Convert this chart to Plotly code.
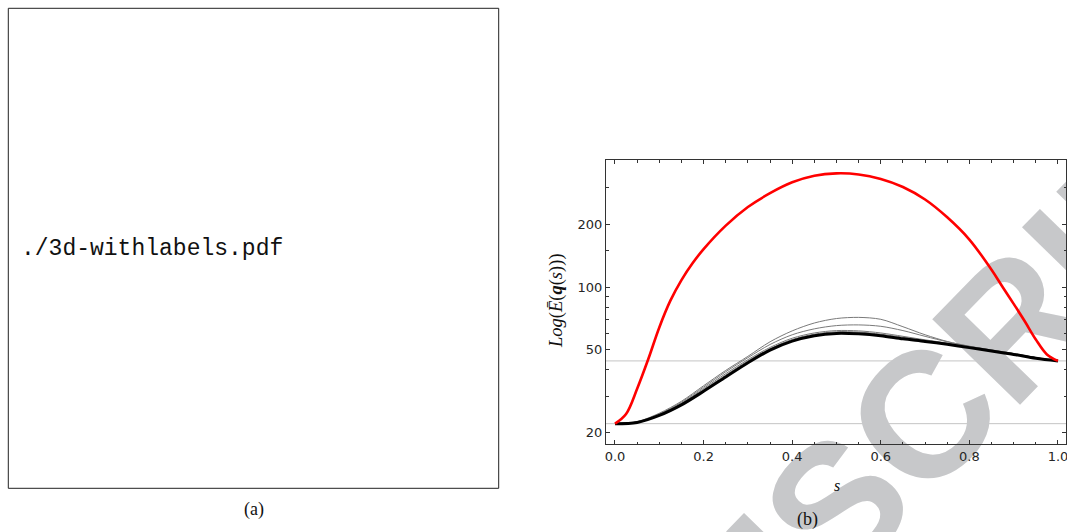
import math
import plotly.graph_objects as go

W, H = 1067, 532

# ---------------- data ----------------
s_red = [0, 0.025, 0.05, 0.075, 0.1, 0.125, 0.15, 0.175, 0.2, 0.25, 0.3, 0.35, 0.4, 0.45,
         0.5, 0.55, 0.6, 0.65, 0.7, 0.75, 0.8, 0.85, 0.875, 0.9, 0.925, 0.95, 0.975, 1.0]
e_red = [22.1, 24.6, 32.5, 45, 64, 86, 108, 130, 152, 197, 242, 282, 318, 342,
         351, 347, 330, 302, 263, 216, 169, 121, 100, 83, 68.5, 56, 47.5, 44.2]

s_path = [0, 0.05, 0.1, 0.15, 0.2, 0.25, 0.3, 0.35, 0.4, 0.45, 0.5,
          0.55, 0.6, 0.65, 0.7, 0.75, 0.8, 0.85, 0.9, 0.95, 1.0]
e_black = [22.1, 22.4, 24.2, 27.2, 31.6, 37.0, 43.3, 49.8, 55.0, 58.4, 59.9,
           59.6, 58.4, 56.4, 54.8, 53.1, 51.2, 49.3, 47.5, 45.5, 44.2]
e_grey1 = [22.1, 22.6, 24.8, 28.3, 33.6, 39.8, 46.5, 54.6, 61.6, 67.2, 70.6,
           71.5, 70.0, 64.5, 59.0, 54.8, 52.0, 49.9, 48.0, 45.9, 44.2]
e_grey2 = [22.1, 22.55, 24.6, 28.0, 33.1, 39.2, 45.8, 53.0, 59.0, 63.0, 65.3,
           65.8, 64.8, 61.8, 58.0, 54.6, 51.9, 49.8, 47.9, 45.8, 44.2]
e_grey3 = [22.1, 22.5, 24.5, 27.7, 32.6, 38.4, 44.8, 51.3, 56.8, 60.2, 61.8,
           61.6, 60.2, 58.0, 55.8, 53.8, 51.8, 49.8, 47.9, 45.8, 44.2]
e_grey4 = [22.1, 22.45, 24.4, 27.5, 32.2, 37.8, 44.2, 50.6, 56.0, 59.4, 61.0,
           60.8, 59.4, 57.4, 55.5, 53.6, 51.6, 49.7, 47.8, 45.7, 44.2]

ref_levels = [22.1, 44.2]

x_tickvals = [0, 0.2, 0.4, 0.6, 0.8, 1.0]
x_ticktext = ["0.0", "0.2", "0.4", "0.6", "0.8", "1.0"]
y_tickvals = [20, 50, 100, 200]
y_ticktext = ["20", "50", "100", "200"]
y_minorvals = [30, 40, 60, 70, 80, 90, 150, 300]

# ---------------- figure ----------------
fig = go.Figure()

for e in [e_grey1, e_grey2, e_grey3, e_grey4]:
    fig.add_trace(go.Scatter(x=s_path, y=e, mode="lines",
                             line=dict(color="#7a7a7a", width=1, shape="spline", smoothing=0.9),
                             showlegend=False, hoverinfo="skip"))
fig.add_trace(go.Scatter(x=s_path, y=e_black, mode="lines",
                         line=dict(color="#000000", width=3, shape="spline", smoothing=0.9),
                         showlegend=False))
fig.add_trace(go.Scatter(x=s_red, y=e_red, mode="lines",
                         line=dict(color="#ff0000", width=2.6, shape="spline", smoothing=1.0),
                         showlegend=False))

for lv in ref_levels:
    fig.add_hline(y=lv, line=dict(color="#c4c4c4", width=1), layer="below")

def px_x(p):
    return p / W

def px_y(p):
    return 1 - p / H

tickfont = dict(family="DejaVu Sans", size=13, color="#262626")

fig.update_layout(
    width=W, height=H,
    template="none",
    margin=dict(l=0, r=0, t=0, b=0),
    paper_bgcolor="white",
    plot_bgcolor="rgba(0,0,0,0)",
    showlegend=False,
    xaxis=dict(
        domain=[px_x(606), px_x(1066)],
        range=[-0.0203, 1.0181],
        tickmode="array", tickvals=x_tickvals, ticktext=x_ticktext,
        ticks="inside", ticklen=4, tickwidth=1, tickcolor="#333",
        minor=dict(dtick=0.05, tick0=0, ticks="inside", ticklen=2.5, tickwidth=1, tickcolor="#333", showgrid=False),
        showline=True, linecolor="#333", linewidth=1, mirror="allticks",
        showgrid=False, zeroline=False, automargin=False,
        ticklabeloverflow="allow",
        tickfont=tickfont,
    ),
    yaxis=dict(
        domain=[px_y(444), px_y(160)],
        type="log",
        range=[1.2468, 2.6095],
        tickmode="array", tickvals=y_tickvals, ticktext=y_ticktext,
        ticks="inside", ticklen=4, tickwidth=1, tickcolor="#333",
        minor=dict(tickmode="array", tickvals=y_minorvals, ticks="inside", ticklen=2.5, tickwidth=1, tickcolor="#333", showgrid=False),
        showline=True, linecolor="#333", linewidth=1, mirror="allticks",
        showgrid=False, zeroline=False, automargin=False,
        ticklabeloverflow="allow",
        tickfont=tickfont,
    ),
)

# left panel frame (missing-figure placeholder)
fig.add_shape(type="rect", xref="paper", yref="paper",
              x0=px_x(8.3), x1=px_x(498.7), y0=px_y(488.3), y1=px_y(8.3),
              line=dict(color="#222", width=1), fillcolor="rgba(0,0,0,0)", layer="above")

# watermark (under everything)
ang = math.radians(45.8)
cx, cy = 466, 862
dx, dy = 50 * math.cos(ang), -50 * math.sin(ang)
fig.add_shape(type="line", xref="paper", yref="paper",
              x0=px_x(cx - dx), y0=px_y(cy - dy), x1=px_x(cx + dx), y1=px_y(cy + dy),
              line=dict(color="rgba(0,0,0,0)", width=0), layer="below",
              label=dict(text="ACCEPTED MANUSCRIPT", textposition="middle", textangle=-45.8,
                         xanchor="center", yanchor="middle", padding=0,
                         font=dict(family="Liberation Sans", size=178, color="#c7c8ca", weight="bold")))

serif = "Liberation Serif"
fig.add_annotation(text="./3d-withlabels.pdf", xref="paper", yref="paper",
                   x=px_x(19), y=px_y(249), xanchor="left", yanchor="middle", showarrow=False,
                   font=dict(family="Liberation Mono", size=23, color="#111"))
fig.add_annotation(text="(a)", xref="paper", yref="paper",
                   x=px_x(253.5), y=px_y(509), xanchor="center", yanchor="middle", showarrow=False,
                   font=dict(family=serif, size=18, color="#111"))
fig.add_annotation(text="(b)", xref="paper", yref="paper",
                   x=px_x(807), y=px_y(519), xanchor="center", yanchor="middle", showarrow=False,
                   font=dict(family=serif, size=18, color="#111"))
fig.add_annotation(text="<i>s</i>", xref="paper", yref="paper",
                   x=px_x(836.5), y=px_y(485), xanchor="center", yanchor="middle", showarrow=False,
                   font=dict(family=serif, size=16, color="#111"))
fig.add_annotation(text="<i>Log</i>(<i>Ē</i>(<b><i>q</i></b>(<i>s</i>)))", xref="paper", yref="paper",
                   x=px_x(556), y=px_y(301), xanchor="center", yanchor="middle", showarrow=False,
                   textangle=-90,
                   font=dict(family=serif, size=18.5, color="#111"))

fig.write_html("out.html", config={"displayModeBar": False},
               post_script="document.body.style.margin='0';document.body.style.overflow='hidden';")
